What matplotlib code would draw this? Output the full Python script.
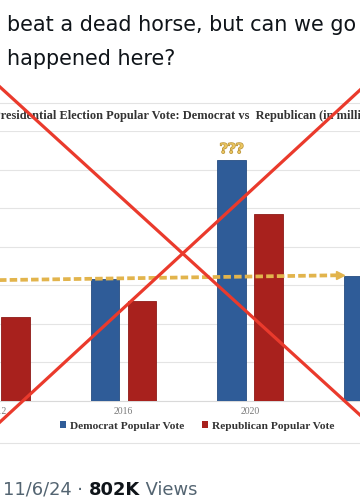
import numpy as np
import matplotlib
matplotlib.use("Agg")
import matplotlib.pyplot as plt
from matplotlib.lines import Line2D
from matplotlib.patches import Patch
import matplotlib.patheffects as pe
import matplotlib.transforms as mtransforms

# ---------------- data ----------------
years = ["2012", "2016", "2020", "2024"]
dem_votes = [65.9, 65.8, 81.3, 66.2]          # millions
rep_votes = [60.9, 63.0, 74.2, np.nan]        # 2024 Rep bar is outside the crop
trend_start = 65.6
trend_end = 66.3
tweet_lines = ["beat a dead horse, but can we go", "happened here?"]
chart_title = "Presidential Election Popular Vote: Democrat vs  Republican (in millions)"
legend_labels = ["Democrat Popular Vote", "Republican Popular Vote"]

W, H = 360, 504
fig = plt.figure(figsize=(W / 100, H / 100), dpi=100)
fig.patch.set_facecolor("white")
fig.canvas.draw()
r = fig.canvas.get_renderer()

def fx(px):
    return px / W

def fy(py):
    return 1 - py / H

def fit_text(t, target_px):
    bb = t.get_window_extent(renderer=r)
    t.set_fontsize(t.get_fontsize() * target_px / bb.width)

# ---------------- chart axes ----------------
ax = fig.add_axes([0, fy(401), 1, fy(131) - fy(401)])
x = np.arange(len(years))
bw = 0.225
off = 0.145
dem_c = "#2f5c98"
rep_c = "#a8211d"
ax.bar(x - off, dem_votes, bw, color=dem_c, edgecolor="#264d82", linewidth=0.6, zorder=3)
ax.bar(x + off, rep_votes, bw, color=rep_c, edgecolor="#8e1a17", linewidth=0.6, zorder=3)
ax.set_xticks([])
ax.set_yticks(np.arange(50, 86, 5))
ax.set_yticklabels([])
ax.tick_params(axis="y", length=0)
ax.yaxis.grid(True, color="#e4e4e4", linewidth=0.8, zorder=0)
ax.set_xlim(3 / 126.5, 363 / 126.5)
ax.set_ylim(50, 85)
for s in ["top", "right", "left"]:
    ax.spines[s].set_visible(False)
ax.spines["bottom"].set_color("#d9d9d9")
ax.spines["bottom"].set_linewidth(0.8)

# year labels (drawn as text so the cropped 2012 label still shows partly)
trans = mtransforms.blended_transform_factory(ax.transData, ax.transAxes)
for xi, yr in zip(x, years):
    ax.text(xi, -0.022, yr, transform=trans, ha="center", va="top",
            fontfamily="Liberation Serif", fontsize=7.0, color="#7a7a7a", clip_on=False)

# trend line with arrow
gold = "#e2b44c"
tx = [-0.3, 2.71]
ax.plot(tx, [trend_start, trend_end], color=gold, linewidth=2.7,
        linestyle=(0, (2.0, 0.85)), zorder=4, solid_capstyle="butt")
ax.plot([tx[1]], [trend_end], marker=">", color=gold, markersize=6, zorder=4)

# ??? over 2020 Dem bar
ax.annotate("???", xy=(2 - off, dem_votes[2]), xytext=(0, 2.5), textcoords="offset points",
            ha="center", va="bottom", fontsize=9.8, fontweight="bold",
            fontfamily="DejaVu Serif", color="#ebc660",
            path_effects=[pe.withStroke(linewidth=1.0, foreground="#b8923a")], zorder=5)

# legend
handles = [Patch(facecolor=dem_c), Patch(facecolor=rep_c)]
fig.legend(handles, legend_labels, loc="center", bbox_to_anchor=(fx(197), fy(426)),
           ncol=2, frameon=False, handlelength=0.5, handleheight=0.5, handletextpad=0.35,
           columnspacing=1.6, prop={"family": "Liberation Serif", "weight": "bold", "size": 8.2},
           labelcolor="#333333")

# chart title
fig.text(fx(-7), fy(116), chart_title, ha="left", va="center",
         fontfamily="Liberation Serif", fontweight="bold", fontsize=8.9, color="#333333")

# separator lines of the embedded image
for py in (103, 443):
    fig.add_artist(Line2D([0, 1], [fy(py), fy(py)], transform=fig.transFigure,
                          color="#e3e3e3", linewidth=0.8))

# ---------------- tweet text ----------------
t1 = fig.text(fx(7), fy(31), tweet_lines[0], ha="left", va="baseline",
              fontfamily="DejaVu Sans", fontsize=14, color="#0f1419")
fit_text(t1, 350)
fig.text(fx(7), fy(65), tweet_lines[1], ha="left", va="baseline",
         fontfamily="DejaVu Sans", fontsize=t1.get_fontsize(), color="#0f1419")

# footer
parts = [("11/6/24 · ", "#536471", "normal"), ("802K", "#0f1419", "bold"), (" Views", "#536471", "normal")]
probe = fig.text(0, 0, "11/6/24 · 802K Views", fontfamily="DejaVu Sans", fontsize=14)
fit_text(probe, 190)
fsz = probe.get_fontsize()
probe.remove()
cur = 3
for txt, col, w in parts:
    t = fig.text(fx(cur), fy(495), txt, ha="left", va="baseline",
                 fontfamily="DejaVu Sans", fontsize=fsz, color=col, fontweight=w)
    bb = t.get_window_extent(renderer=r)
    cur += bb.width

# ---------------- red X ----------------
red = "#ea3a2c"
fig.add_artist(Line2D([fx(0), fx(360)], [fy(87), fy(415)], transform=fig.transFigure,
                      color=red, linewidth=2.3, zorder=10))
fig.add_artist(Line2D([fx(360), fx(0)], [fy(90), fy(422)], transform=fig.transFigure,
                      color=red, linewidth=2.3, zorder=10))

fig.savefig("out.png", dpi=100, facecolor="white")
